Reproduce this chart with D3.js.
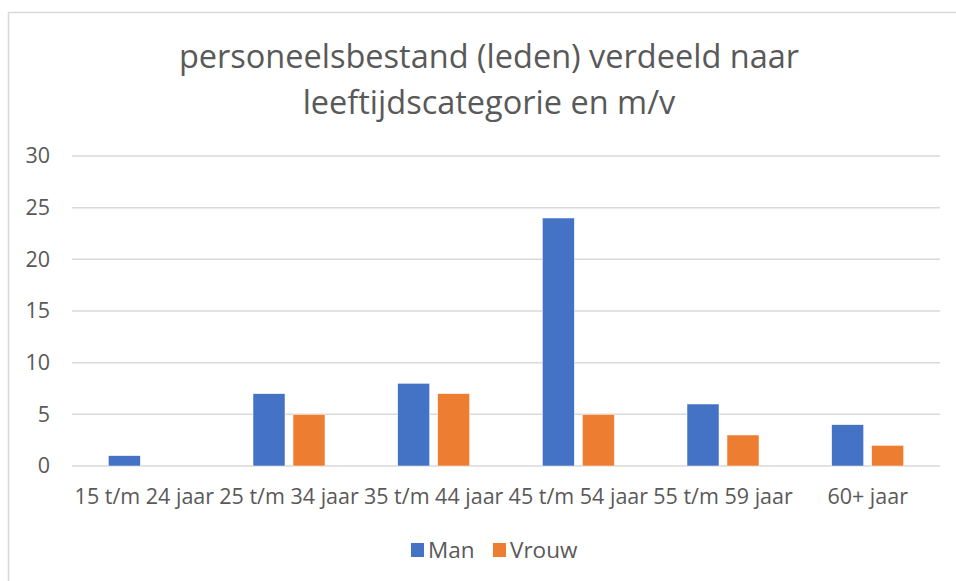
<!DOCTYPE html>
<html>
<head>
<meta charset="utf-8">
<script src="https://cdn.jsdelivr.net/npm/d3@7"></script>
<style>
  body { margin: 0; background: #fff; }
  svg { display: block; font-family: "Open Sans", sans-serif; }
</style>
</head>
<body>
<svg width="956" height="581"></svg>
<script>
// data
var categories = ["15 t/m 24 jaar", "25 t/m 34 jaar", "35 t/m 44 jaar", "45 t/m 54 jaar", "55 t/m 59 jaar", "60+ jaar"];
var series = ["Man", "Vrouw"];
var manValues = [1, 7, 8, 24, 6, 4];
var vrouwValues = [0, 5, 7, 5, 3, 2];
var yTicks = [0, 5, 10, 15, 20, 25, 30];
var titleLines = ["personeelsbestand (leden) verdeeld naar", "leeftijdscategorie en m/v"];

var colors = {"Man": "#4472C4", "Vrouw": "#ED7D31"};
var textColor = "#595959";
var gridColor = "#d9d9d9";

var svg = d3.select("svg");

// chart frame
svg.append("rect")
  .attr("x", 8.5).attr("y", 12.5)
  .attr("width", 960).attr("height", 600)
  .attr("fill", "none")
  .attr("stroke", gridColor)
  .attr("stroke-width", 1.5);

// title
svg.append("g").selectAll("text")
  .data(titleLines)
  .enter().append("text")
    .attr("x", 489)
    .attr("y", function(d, i) { return 68 + i * 46; })
    .attr("text-anchor", "middle")
    .attr("fill", textColor)
    .style("font-size", "32.5px")
    .text(function(d) { return d; });

var margin = {left: 72, right: 16, top: 156, bottom: 115};
var width = 956 - margin.left - margin.right,
    plotBottom = 466;

var x0 = d3.scaleBand()
  .domain(categories)
  .range([margin.left, margin.left + width])
  .padding(0);

var yScale = d3.scaleLinear()
  .domain([0, 30])
  .range([plotBottom, margin.top]);

// series scale within a category: 2 bars of 32 with 8 gap
var x1 = d3.scaleBand()
  .domain(series)
  .range([-36, 36])
  .paddingInner(0.2)
  .paddingOuter(0);

// gridlines
svg.append("g").selectAll("line")
  .data(yTicks)
  .enter().append("line")
    .attr("x1", margin.left)
    .attr("x2", margin.left + width)
    .attr("y1", function(d) { return yScale(d); })
    .attr("y2", function(d) { return yScale(d); })
    .attr("stroke", gridColor)
    .attr("stroke-width", 1.5);

// y axis labels
var yAxis = d3.axisLeft(yScale).tickValues(yTicks).tickSize(0).tickPadding(0);
var yAxis_group = svg.append("g")
  .attr("transform", "translate(50,0)")
  .call(yAxis);
yAxis_group.select(".domain").remove();
yAxis_group.selectAll("text")
  .attr("fill", textColor)
  .style("font-size", "21.5px")
  .style("font-family", "'Open Sans', sans-serif");

// x axis labels
var xAxis = d3.axisBottom(x0).tickSize(0).tickPadding(0);
var xAxis_group = svg.append("g")
  .attr("transform", "translate(0," + plotBottom + ")")
  .call(xAxis);
xAxis_group.select(".domain").remove();
xAxis_group.selectAll("text")
  .attr("dy", null)
  .attr("y", 38)
  .attr("fill", textColor)
  .style("font-size", "21.5px")
  .style("font-family", "'Open Sans', sans-serif");

// bars
var rows = categories.map(function(c, i) {
  return {category: c, values: [{key: "Man", value: manValues[i]}, {key: "Vrouw", value: vrouwValues[i]}]};
});

var groups = svg.append("g").selectAll("g")
  .data(rows)
  .enter().append("g")
    .attr("transform", function(d) { return "translate(" + (x0(d.category) + x0.bandwidth() / 2) + ",0)"; });

groups.selectAll("rect")
  .data(function(d) { return d.values.filter(function(v) { return v.value > 0; }); })
  .enter().append("rect")
    .attr("x", function(d) { return x1(d.key); })
    .attr("y", function(d) { return yScale(d.value); })
    .attr("width", x1.bandwidth())
    .attr("height", function(d) { return yScale(0) - yScale(d.value); })
    .attr("fill", function(d) { return colors[d.key]; })
    .attr("stroke", "#fff")
    .attr("stroke-width", 0.5);

// legend
var legendX = [411, 493];
var legend = svg.append("g").selectAll("g")
  .data(series)
  .enter().append("g")
    .attr("transform", function(d, i) { return "translate(" + legendX[i] + ",543)"; });

legend.append("rect")
  .attr("width", 13).attr("height", 14)
  .attr("fill", function(d) { return colors[d]; });

legend.append("text")
  .attr("x", 17)
  .attr("y", 14.5)
  .attr("fill", textColor)
  .style("font-size", "22.5px")
  .text(function(d) { return d; });
</script>
</body>
</html>
